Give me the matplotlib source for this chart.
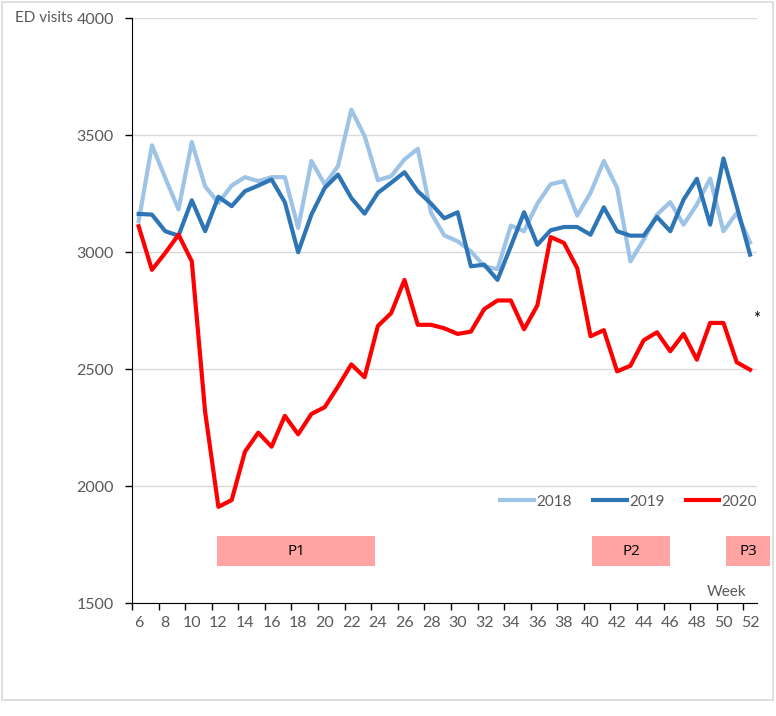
import matplotlib
matplotlib.use("Agg")
import matplotlib.pyplot as plt
from matplotlib.patches import Rectangle

plt.rcParams["font.family"] = ["Lato", "DejaVu Sans"]

# Weekly ED visits
weeks = [6, 7, 8, 9, 10, 11, 12, 13, 14, 15, 16, 17, 18, 19, 20, 21, 22, 23, 24,
         25, 26, 27, 28, 29, 30, 31, 32, 33, 34, 35, 36, 37, 38, 39, 40, 41, 42,
         43, 44, 45, 46, 47, 48, 49, 50, 51, 52]

visits_2018 = [3131, 3456, 3317, 3182, 3470, 3281, 3210, 3284, 3320, 3303, 3320, 3320,
               3103, 3389, 3289, 3367, 3608, 3496, 3307, 3324, 3396, 3441, 3167, 3071,
               3046, 3003, 2939, 2927, 3113, 3089, 3207, 3290, 3303, 3156, 3253, 3389,
               3274, 2960, 3053, 3160, 3213, 3117, 3203, 3314, 3089, 3167, 3041]

visits_2019 = [3163, 3160, 3089, 3070, 3221, 3089, 3236, 3196, 3260, 3284, 3310, 3213,
               2999, 3160, 3274, 3331, 3231, 3164, 3253, 3296, 3341, 3260, 3207, 3144,
               3170, 2939, 2946, 2881, 3024, 3170, 3031, 3093, 3107, 3107, 3074, 3191,
               3089, 3070, 3070, 3150, 3089, 3224, 3313, 3117, 3400, 3196, 2989]

visits_2020 = [3110, 2924, 2996, 3074, 2960, 2318, 1911, 1940, 2147, 2228, 2168, 2300,
               2221, 2308, 2337, 2425, 2520, 2465, 2684, 2739, 2881, 2689, 2689, 2674,
               2650, 2660, 2756, 2793, 2793, 2670, 2772, 3064, 3039, 2931, 2640, 2666,
               2490, 2514, 2623, 2657, 2576, 2650, 2540, 2697, 2697, 2529, 2497]

# lockdown periods (week spans)
periods = ["P1", "P2", "P3"]
period_start = [11.93, 40.1, 50.2]
period_end = [23.8, 46.0, 53.5]

fig = plt.figure(figsize=(7.76, 7.16), dpi=100)
ax = fig.add_axes([0.1701, 0.1578, 0.8050, 0.8170])

# outer frame
fig.patches.append(Rectangle((2 / 776, 1 - 700 / 716), 771 / 776, 698 / 716,
                             transform=fig.transFigure, fill=False,
                             ec="#d9d9d9", lw=1.2))

ax.plot(weeks, visits_2018, color="#9dc3e6", lw=3, label="2018", zorder=3)
ax.plot(weeks, visits_2019, color="#2e75b6", lw=3, label="2019", zorder=4)
ax.plot(weeks, visits_2020, color="#ff0000", lw=3, label="2020", zorder=5)

for name, s, e in zip(periods, period_start, period_end):
    r = Rectangle((s, 1657), e - s, 130, facecolor="#ffa3a3", edgecolor="none",
                  clip_on=False, zorder=2)
    ax.add_patch(r)
    ax.text((s + e) / 2, 1722, name, ha="center", va="center", fontsize=11,
            color="black", family=["Open Sans", "DejaVu Sans"], clip_on=False)

ax.set_xlim(5.5, 52.5)
ax.set_ylim(1500, 4000)
ax.set_yticks([1500, 2000, 2500, 3000, 3500, 4000])
ax.set_xticks(weeks[::2])
ax.set_xticks([w - 0.5 for w in weeks[::2]], minor=True)
ax.tick_params(axis="x", which="major", length=0, pad=9, labelsize=11.5,
               labelcolor="#595959")
ax.tick_params(axis="x", which="minor", length=5, width=1, direction="out")
ax.tick_params(axis="y", length=5, width=1, pad=8, labelsize=11.5,
               labelcolor="#595959")

ax.yaxis.grid(True, color="#d9d9d9", lw=1)
ax.set_axisbelow(True)
for sp in ["top", "right"]:
    ax.spines[sp].set_visible(False)
ax.spines["left"].set_color("black")
ax.spines["bottom"].set_color("black")

ax.text(0.984, 0.019, "Week", transform=ax.transAxes, ha="right", va="center",
        fontsize=11, color="#595959")
fig.text(73 / 776, 1 - 18 / 716, "ED visits", ha="right", va="center",
         fontsize=11, color="#595959")
ax.text(52.47, 2714, "*", ha="center", va="center", fontsize=12, color="black",
        clip_on=False)

ax.legend(loc="center", bbox_to_anchor=(0.795, 0.173), ncol=3, frameon=False,
          handlelength=2.2, handletextpad=0.15, columnspacing=1.4,
          fontsize=11, labelcolor="#595959")

plt.savefig("out.png", dpi=100)
